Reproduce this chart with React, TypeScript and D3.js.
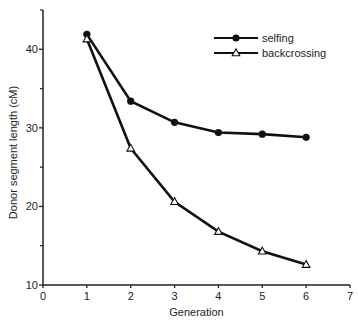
import React from "react";
import * as d3 from "d3";

const generations = [1, 2, 3, 4, 5, 6];
const selfing = [41.9, 33.4, 30.7, 29.4, 29.2, 28.8];
const backcrossing = [41.3, 27.4, 20.6, 16.8, 14.3, 12.6];
const xTicks = [0, 1, 2, 3, 4, 5, 6, 7];
const yMajor = [10, 20, 30, 40];
const yMinor = [15, 25, 35, 45];

const W = 358, H = 321;
const x = d3.scaleLinear().domain([0, 7]).range([43, 350]);
const y = d3.scaleLinear().domain([10, 45]).range([285, 10]);
const line = d3.line<[number, number]>().x(d => x(d[0])).y(d => y(d[1]));
const font = "'Liberation Sans', Arial, sans-serif";

function tri(cx: number, cy: number, s = 4) {
  return `M${cx},${cy - s}L${cx + s * 0.95},${cy + s * 0.7}L${cx - s * 0.95},${cy + s * 0.7}Z`;
}

export default function App() {
  const sPts = generations.map((g, i) => [g, selfing[i]] as [number, number]);
  const bPts = generations.map((g, i) => [g, backcrossing[i]] as [number, number]);
  return (
    <svg width={W} height={H} style={{ position: "absolute", left: 0, top: 0, background: "#fff" }} fontFamily={font}>
      {/* axes */}
      <line x1={x(0)} x2={x(0)} y1={y(45)} y2={y(10)} stroke="#222" strokeWidth={1.5} />
      <line x1={x(0)} x2={x(7)} y1={y(10)} y2={y(10)} stroke="#222" strokeWidth={1.5} />
      {yMajor.map(v => (
        <g key={v}>
          <line x1={x(0) - 4} x2={x(0)} y1={y(v)} y2={y(v)} stroke="#222" strokeWidth={1.3} />
          <text x={x(0) - 5} y={y(v)} dy="0.35em" textAnchor="end" fontSize={11} fill="#222">{v}</text>
        </g>
      ))}
      {yMinor.map(v => (
        <line key={v} x1={x(0) - 3} x2={x(0)} y1={y(v)} y2={y(v)} stroke="#222" strokeWidth={1.2} />
      ))}
      {xTicks.map(v => (
        <g key={v}>
          <line x1={x(v)} x2={x(v)} y1={y(10)} y2={y(10) + 3} stroke="#222" strokeWidth={1.3} />
          <text x={x(v)} y={y(10) + 15} textAnchor="middle" fontSize={11} fill="#222">{v}</text>
        </g>
      ))}
      <text x={(x(0) + x(7)) / 2} y={316} textAnchor="middle" fontSize={11} fill="#222">Generation</text>
      <text transform={`translate(17,${(y(10) + y(45)) / 2 + 5}) rotate(-90)`} textAnchor="middle" fontSize={11} fill="#222">Donor segment length (cM)</text>
      {/* series */}
      <path d={line(sPts) || ""} fill="none" stroke="#111" strokeWidth={2.6} />
      <path d={line(bPts) || ""} fill="none" stroke="#111" strokeWidth={2.6} />
      {sPts.map((p, i) => (
        <circle key={i} cx={x(p[0])} cy={y(p[1])} r={3.6} fill="#111" />
      ))}
      {bPts.map((p, i) => (
        <path key={i} d={tri(x(p[0]), y(p[1]))} fill="#fff" stroke="#111" strokeWidth={1.1} />
      ))}
      {/* legend */}
      <line x1={214} x2={258} y1={38} y2={38} stroke="#111" strokeWidth={2.2} />
      <circle cx={236} cy={38} r={3.6} fill="#111" />
      <text x={262} y={38} dy="0.35em" fontSize={11} fill="#222">selfing</text>
      <line x1={214} x2={258} y1={53} y2={53} stroke="#111" strokeWidth={2.2} />
      <path d={tri(236, 53)} fill="#fff" stroke="#111" strokeWidth={1.1} />
      <text x={262} y={53} dy="0.35em" fontSize={11} fill="#222">backcrossing</text>
    </svg>
  );
}
